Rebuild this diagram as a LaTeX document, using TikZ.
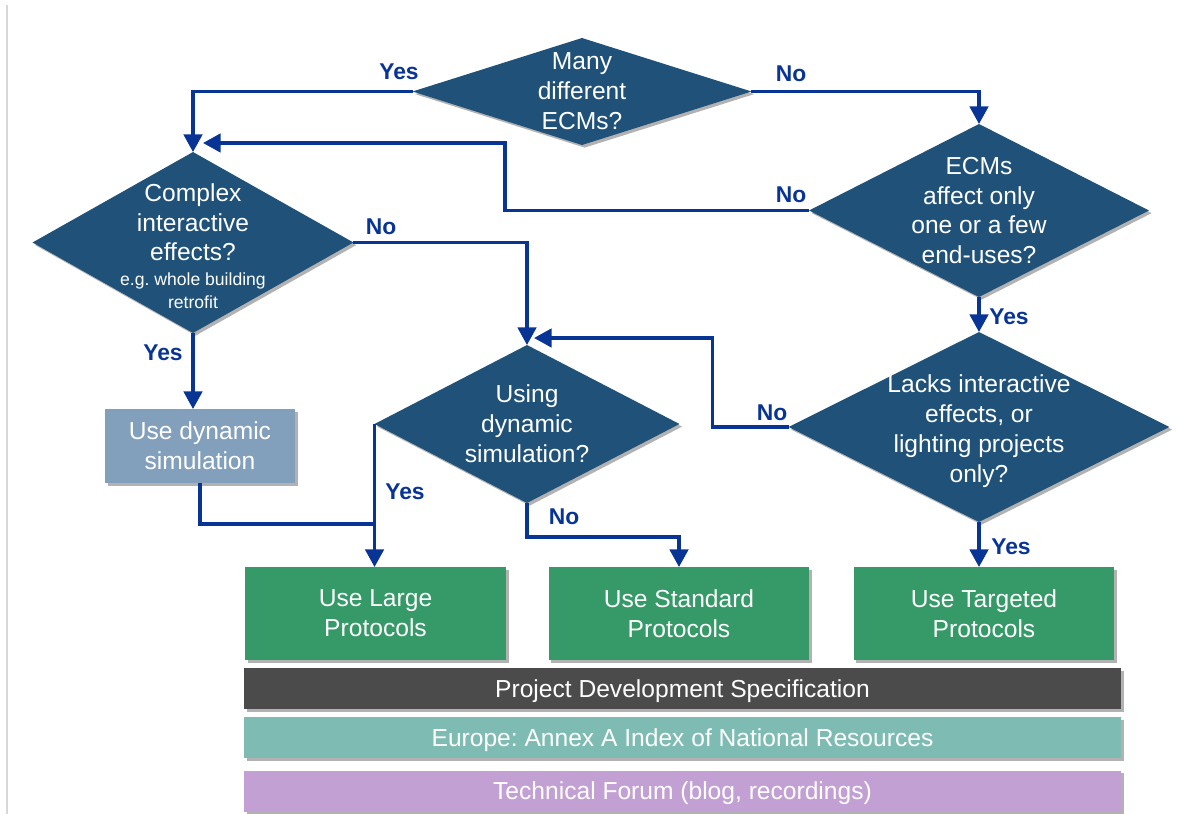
\documentclass[tikz,border=0pt]{standalone}
\usepackage{fontspec}
\setmainfont{Liberation Sans}
\usetikzlibrary{arrows.meta, shapes.geometric, shadows}
\frenchspacing

\definecolor{qblue}{RGB}{31,81,121}
\definecolor{lineblue}{RGB}{8,52,150}
\definecolor{simblue}{RGB}{130,159,187}
\definecolor{protgreen}{RGB}{53,154,104}
\definecolor{specgray}{RGB}{75,75,75}
\definecolor{annexteal}{RGB}{126,188,179}
\definecolor{forumpurple}{RGB}{195,160,211}

\begin{document}
\begin{tikzpicture}[x=0.02cm, y=-0.02cm,
    boxshadow/.style={drop shadow={shadow xshift=1.5pt, shadow yshift=-1.5pt, opacity=0.3, fill=black}},
    question/.style={diamond, fill=qblue, inner sep=0pt, outer sep=0pt, boxshadow},
    qtext/.style={text=white, align=center, font=\fontsize{14}{17}\selectfont},
    result/.style={rectangle, fill=protgreen, text=white, align=center, inner sep=0pt, outer sep=0pt,
        minimum width=5.22cm, minimum height=1.86cm, font=\fontsize{14}{17}\selectfont, boxshadow},
    bar/.style={rectangle, text=white, inner sep=0pt, minimum width=17.54cm, minimum height=0.82cm,
        text depth=0pt, font=\fontsize{14}{17}\selectfont, boxshadow},
    flow/.style={draw=lineblue, line width=1.8pt},
    answer/.style={text=lineblue, font=\fontsize{13}{15}\selectfont\bfseries},
    >={Triangle[length=10pt, width=10.5pt]}
]
    \useasboundingbox (0,0) rectangle (1197,814);

    % page edge
    \draw[line width=0.06cm, color={rgb,255:red,215;green,215;blue,215}] (7,5) -- (7,814);

    % Many different ECMs?
    \node[question, minimum width=6.78cm, minimum height=2.14cm] (many) at (582,91.5) {};
    \node[qtext] (manytext) at (many) {Many\\different\\ECMs?};

    % Complex interactive effects?
    \node[question, minimum width=6.42cm, minimum height=3.62cm] (complex) at (193,242.5) {};
    \node[qtext] (complextext) at (193,246) {Complex\\interactive\\effects?\\[-3pt]
        {\fontsize{10}{12.5}\selectfont e.g. whole building}\\[-4pt]
        {\fontsize{10}{12.5}\selectfont retrofit}};

    % ECMs affect only one or a few end-uses?
    \node[question, minimum width=6.8cm, minimum height=3.46cm] (ecms) at (979,210.5) {};
    \node[qtext] (ecmstext) at (ecms) {ECMs\\affect only\\one or a few\\end-uses?};

    % Using dynamic simulation?
    \node[question, minimum width=6.1cm, minimum height=3.16cm] (using) at (527,424) {};
    \node[qtext] (usingtext) at (using) {Using\\dynamic\\simulation?};

    % Lacks interactive effects, or lighting projects only?
    \node[question, minimum width=7.62cm, minimum height=3.8cm] (lacks) at (979,427) {};
    \node[qtext] (lackstext) at (979,431) {Lacks interactive\\effects, or\\lighting projects\\only?};

    % Use dynamic simulation
    \node[result, fill=simblue, minimum width=3.8cm, minimum height=1.48cm] (dynsim) at (200,446) {Use dynamic\\simulation};

    % protocols
    \node[result] (large) at (375.5,613.5) {Use Large\\Protocols};
    \node[result] (standard) at (679,613.5) {Use Standard\\Protocols};
    \node[result] (targeted) at (984,613.5) {Use Targeted\\Protocols};

    % resources
    \node[bar, fill=specgray] (spec) at (682.5,688.5) {Project Development Specification};
    \node[bar, fill=annexteal] (annex) at (682.5,737.5) {Europe: Annex A Index of National Resources};
    \node[bar, fill=forumpurple] (forum) at (682.5,791) {Technical Forum (blog, recordings)};

    % many -> complex
    \draw[flow, ->] (many.west) -| (complex.north);
    \node[answer] at (399,72) {Yes};

    % many -> ecms
    \draw[flow, ->] (many.east) -| (ecms.north);
    \node[answer] at (791,74) {No};

    % ecms -> back to complex
    \coordinate (backtip) at (203,143);
    \draw[flow, ->] (ecms.west) -- ++(-304,0) |- (backtip);
    \node[answer] at (791,195) {No};

    % complex -> using
    \draw[flow, ->] (complex.east) -| (using.north);
    \node[answer] at (381,227) {No};

    % ecms -> lacks
    \draw[flow, ->] (ecms.south) -- (lacks.north);
    \node[answer] at (1009,317) {Yes};

    % lacks -> back to using
    \coordinate (jointip) at (534,338);
    \draw[flow, ->] (lacks.west) -- ++(-76,0) |- (jointip);
    \node[answer] at (772,413) {No};

    % complex -> dynsim
    \draw[flow, ->] (complex.south) -- (complex.south |- dynsim.north);
    \node[answer] at (163,353) {Yes};

    % dynsim -> large
    \coordinate (merge) at (375,524);
    \draw[flow] (dynsim.south) |- (merge);

    % using -> large
    \draw[flow, ->] (using.west) -- (using.west |- large.north);
    \node[answer] at (405,492) {Yes};

    % using -> standard
    \draw[flow, ->] (using.south) -- ++(0,34) -| (standard.north);
    \node[answer] at (564,517) {No};

    % lacks -> targeted
    \draw[flow, ->] (lacks.south) -- (lacks.south |- targeted.north);
    \node[answer] at (1011,547) {Yes};

\end{tikzpicture}
\end{document}
